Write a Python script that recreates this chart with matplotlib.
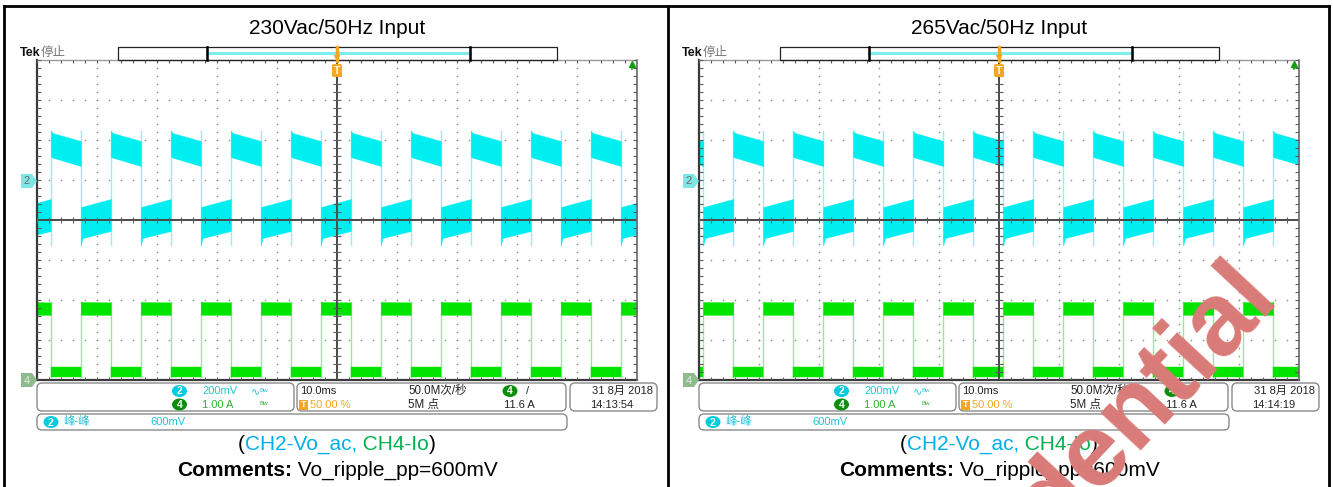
import numpy as np
import matplotlib
matplotlib.use('Agg')
import matplotlib.pyplot as plt
from matplotlib.patches import FancyBboxPatch, Rectangle, Polygon, Ellipse
from matplotlib.collections import LineCollection

plt.rcParams['font.family'] = ['Liberation Sans', 'Noto Sans CJK SC', 'DejaVu Sans']

# ------------------------- data -------------------------
panel_titles = ['230Vac/50Hz Input', '265Vac/50Hz Input']
capture_times = ['14:13:54', '14:14:19']
capture_date = '31 8月 2018'
ch2_scale = '200mV'
ch4_scale = '1.00 A'
time_scale = '10.0ms'
sample_rate = '50.0M次/秒'
record_len = '5M 点'
trig_pos = '50.00 %'
trig_level = '11.6 A'
meas_label = '峰-峰'
meas_value = '600mV'
caption_parts = ['(', 'CH2-Vo_ac,', ' CH4-Io', ')']
comment_label = 'Comments:'
comment_text = ' Vo_ripple_pp=600mV'
watermark = 'Confidential'

ch2_mV_per_div = 200.0
ch4_A_per_div = 1.0
ch2_offset_div = 1.0
ch4_offset_div = -4.0
half_period_ms = 5.0

# CH2 (Vo_ac) edge times, ms relative to trigger (CH4 switches the opposite way)
ch2_rise_ms = [[-47.7, -37.7, -27.7, -17.7, -7.7, 2.3, 12.3, 22.3, 32.3, 42.3],
               [-44.3, -34.3, -24.3, -14.3, -4.3, 5.7, 15.7, 25.7, 35.7, 45.7]]
ch2_fall_ms = [[-42.7, -32.7, -22.7, -12.7, -2.7, 7.3, 17.3, 27.3, 37.3, 47.3],
               [-49.3, -39.3, -29.3, -19.3, -9.3, 0.7, 10.7, 20.7, 30.7, 40.7]]

# envelope of each half period (time since edge, ms)
seg_t_ms = [0.0, 0.3, 5.0]
ch2_high_top_mV = [245, 235, 195]
ch2_high_bot_mV = [115, 112, 70]
ch2_low_top_mV = [-135, -133, -95]
ch2_low_bot_mV = [-325, -290, -255]
ch4_high_top_A = [1.95, 1.95, 1.94]
ch4_high_bot_A = [1.63, 1.63, 1.63]
ch4_low_top_A = [0.33, 0.33, 0.33]
ch4_low_bot_A = [0.08, 0.08, 0.08]

# ------------------------- layout -------------------------
W, H = 1333, 487
fig = plt.figure(figsize=(W / 100, H / 100), dpi=100)
fig.patch.set_facecolor('white')

CYAN = '#00EEF0'
CYAN_EDGE = '#8FF2F2'
GREEN = '#00E400'
GREEN_EDGE = '#8FEF8F'
GRID_X0 = [37, 699]
GRID_TOP, GRID_BOT = 60, 380
PANEL_DX = [0, 662]
PANEL_CX = [337, 999]


def conv2(v):
    return ch2_offset_div + np.asarray(v, float) / ch2_mV_per_div


def conv4(v):
    return ch4_offset_div + np.asarray(v, float) / ch4_A_per_div


def draw_channel(ax, rises, falls, hi, lo, conv, color, ecolor):
    edges = sorted([(t, 'r') for t in rises] + [(t, 'f') for t in falls])
    bounds = [-50.0] + [e[0] for e in edges] + [50.0]
    state = edges[0][1] == 'f'
    st = np.array(seg_t_ms)
    for i in range(len(bounds) - 1):
        a, b = bounds[i], bounds[i + 1]
        start = a if i > 0 else b - half_period_ms
        top_v, bot_v = hi if state else lo
        extra = [x for x in start + st if a <= x <= b]
        ts = np.unique(np.concatenate([np.linspace(a, b, 15), extra]))
        top = np.interp(ts - start, st, top_v)
        bot = np.interp(ts - start, st, bot_v)
        ax.fill_between(ts, conv(bot), conv(top), color=color, lw=0.3,
                        ec=color, zorder=3)
        state = not state
    ymin = conv(min(min(lo[1]), min(hi[1])))
    ymax = conv(max(max(lo[0]), max(hi[0])))
    for t, _ in edges:
        ax.plot([t, t], [ymin, ymax], color=ecolor, lw=1.0, zorder=2)


for p in range(2):
    x0 = GRID_X0[p]
    ax = fig.add_axes([x0 / W, 1 - GRID_BOT / H, 600 / W, (GRID_BOT - GRID_TOP) / H])
    ax.set_xlim(-50, 50)
    ax.set_ylim(-4, 4)
    ax.axis('off')
    ax.patch.set_alpha(0)
    # dotted graticule
    ys = np.arange(-4, 4.001, 0.2)
    xs = np.arange(-50, 50.001, 2.0)
    for xv in np.arange(-40, 41, 10):
        if xv == 0:
            continue
        ax.scatter(np.full_like(ys, xv), ys, s=1.3, c='#8a8a8a', lw=0, zorder=1)
    for yv in np.arange(-3, 4, 1):
        if yv == 0:
            continue
        ax.scatter(xs, np.full_like(xs, yv), s=1.3, c='#8a8a8a', lw=0, zorder=1)
    # waveforms
    draw_channel(ax, ch2_rise_ms[p], ch2_fall_ms[p],
                 (ch2_high_top_mV, ch2_high_bot_mV), (ch2_low_top_mV, ch2_low_bot_mV),
                 conv2, CYAN, CYAN_EDGE)
    draw_channel(ax, ch2_fall_ms[p], ch2_rise_ms[p],
                 (ch4_high_top_A, ch4_high_bot_A), (ch4_low_top_A, ch4_low_bot_A),
                 conv4, GREEN, GREEN_EDGE)
    # center cross and frame
    ax.plot([-50, 50], [0, 0], color='#4a4a4a', lw=1.4, zorder=5)
    ax.plot([0, 0], [-4, 4], color='#4a4a4a', lw=1.4, zorder=5)
    ax.plot([-50, -50], [-4, 4], color='#3a3a3a', lw=1.6, zorder=5, clip_on=False)
    ax.plot([-50, 50], [-4, -4], color='#3a3a3a', lw=1.6, zorder=5, clip_on=False)
    ax.plot([50, 50], [-4, 4], color='#6a6a6a', lw=1.2, zorder=5, clip_on=False)
    ax.plot([-50, 50], [4, 4], color='#9a9a9a', lw=1.0, zorder=5, clip_on=False)
    segs = []
    for xv in xs:
        segs.append([(xv, -0.075), (xv, 0.075)])
        segs.append([(xv, 4), (xv, 3.92)])
        segs.append([(xv, -4), (xv, -3.92)])
    for yv in ys:
        segs.append([(-0.6, yv), (0.6, yv)])
        segs.append([(-50, yv), (-49.4, yv)])
        segs.append([(50, yv), (49.4, yv)])
    ax.add_collection(LineCollection(segs, colors='#5a5a5a', lw=0.8, zorder=5))

# ------------------------- overlay -------------------------
ov = fig.add_axes([0, 0, 1, 1])
ov.set_xlim(0, W)
ov.set_ylim(H, 0)
ov.axis('off')
ov.patch.set_alpha(0)
ov.set_zorder(10)

# table frame
for xv in [4, 668, 1329]:
    ov.plot([xv, xv], [6, H], color='black', lw=2)
ov.plot([4, 1329], [6, 6], color='black', lw=2)


def rbox(x0, y0, x1, y1, ec='#8a8a8a', r=5):
    ov.add_patch(FancyBboxPatch((x0, y0), x1 - x0, y1 - y0,
                                boxstyle=f'round,pad=0,rounding_size={r}',
                                fc='none', ec=ec, lw=1.0))


def badge(x, y, s, fc, w=15, h=12):
    ov.add_patch(Ellipse((x, y), w, h, fc=fc, ec='none'))
    ov.text(x, y + 0.5, s, color='white', fontsize=7.5, weight='bold',
            ha='center', va='center')


def multi_text(cx, y, parts, size):
    first = ov.text(cx, y, parts[0][0], color=parts[0][1], weight=parts[0][2],
                    fontsize=size, ha='left', va='center')
    prev = first
    for s, c, w in parts[1:]:
        prev = ov.annotate(s, xy=(1, 0), xycoords=prev, xytext=(0, 0),
                           textcoords='offset points', ha='left', va='bottom',
                           color=c, weight=w, fontsize=size)
    return first, prev


centered = []
for p in range(2):
    dx = PANEL_DX[p]
    cx = PANEL_CX[p]
    ov.text(cx, 28, panel_titles[p], fontsize=15, ha='center', va='center', color='black')
    # Tek label
    ov.text(20 + dx, 53, 'Tek', fontsize=9, weight='bold', ha='left', va='center', color='#111111')
    ov.text(41 + dx, 53, '停止', fontsize=9, ha='left', va='center', color='#777777')
    # record bar
    ov.add_patch(Rectangle((118 + dx, 47), 439, 13, fill=False, ec='#222222', lw=0.9))
    ov.plot([207 + dx, 470 + dx], [52.5, 52.5], color='#7FEDED', lw=2.2)
    ov.plot([207 + dx] * 2, [47, 60], color='black', lw=1.8)
    ov.plot([470 + dx] * 2, [47, 60], color='black', lw=1.8)
    # trigger markers
    ov.plot([337 + dx] * 2, [47, 61], color='#F5A623', lw=2.5)
    ov.add_patch(Polygon([[333 + dx, 54], [341 + dx, 54], [337 + dx, 61]], fc='#F5A623', ec='none'))
    ov.add_patch(FancyBboxPatch((332 + dx, 64), 10, 13, boxstyle='round,pad=0,rounding_size=2',
                                fc='#F5A623', ec='none'))
    ov.text(337 + dx, 71, 'T', color='white', fontsize=7.5, weight='bold', ha='center', va='center')
    ov.plot([632 + dx, 632 + dx], [64, 69], color='#10A010', lw=1.2)
    ov.plot(632 + dx, 64, marker='^', color='#10A010', ms=5)
    # channel tags
    for (yy, fc, tc, s) in [(181, '#7FE6E6', '#6a6a6a', '2'), (380, '#8DBB8D', '#e8e8e8', '4')]:
        ov.add_patch(Polygon([[21 + dx, yy - 7], [32 + dx, yy - 7], [37 + dx, yy],
                              [32 + dx, yy + 7], [21 + dx, yy + 7]], fc=fc, ec='none'))
        ov.text(27 + dx, yy + 0.5, s, color=tc, fontsize=8, ha='center', va='center')
    # info boxes
    rbox(37 + dx, 383, 294 + dx, 411)
    rbox(297 + dx, 383, 566 + dx, 411)
    rbox(570 + dx, 383, 657 + dx, 411)
    rbox(37 + dx, 414, 567 + dx, 430)
    y1, y2 = 391, 404.5
    badge(179.5 + dx, y1, '2', '#00CCE0')
    ov.text(202 + dx, y1, ch2_scale, color='#22C4DA', fontsize=8, ha='left', va='center')
    ov.text(251 + dx, y1, '∿', color='#22C4DA', fontsize=8, ha='left', va='center',
            family=['DejaVu Sans'])
    ov.text(259 + dx, y1 - 1, 'Bw', color='#22C4DA', fontsize=4.5, ha='left', va='center')
    badge(179.5 + dx, y2, '4', '#0C8E0C')
    ov.text(202 + dx, y2, ch4_scale, color='#2DB02D', fontsize=8, ha='left', va='center')
    ov.text(260 + dx, y2 - 1, 'Bw', color='#2DB02D', fontsize=4.5, ha='left', va='center')
    ov.text(300 + dx, y1, time_scale, color='#222222', fontsize=8, ha='left', va='center')
    ov.text(408 + dx, y1, sample_rate, color='#222222', fontsize=8.3, ha='left', va='center')
    badge(510 + dx, y1, '4', '#0C8E0C')
    ov.text(526 + dx, y1, '/', color='#222222', fontsize=8, ha='left', va='center')
    ov.add_patch(Rectangle((299 + dx, y2 - 5), 9, 10, fc='#F5A623', ec='none'))
    ov.text(303.5 + dx, y2 + 0.3, 'T', color='white', fontsize=6.5, weight='bold',
            ha='center', va='center')
    ov.text(310 + dx, y2, trig_pos, color='#F5A623', fontsize=8, ha='left', va='center')
    ov.text(408 + dx, y2, record_len, color='#222222', fontsize=8.3, ha='left', va='center')
    ov.text(504 + dx, y2, trig_level, color='#222222', fontsize=8, ha='left', va='center')
    ov.text(653 + dx, y1, capture_date, color='#222222', fontsize=8, ha='right', va='center')
    ov.text(590 + dx, y2, capture_times[p], color='#222222', fontsize=8, ha='left', va='center')
    badge(51 + dx, 422, '2', '#00CCE0')
    ov.text(63 + dx, 422, meas_label, color='#22C4DA', fontsize=8.3, ha='left', va='center')
    ov.text(150 + dx, 422, meas_value, color='#22C4DA', fontsize=8, ha='left', va='center')
    # captions
    cap = [(caption_parts[0], 'black', 'normal'), (caption_parts[1], '#00AEEF', 'normal'),
           (caption_parts[2], '#00B050', 'normal'), (caption_parts[3], 'black', 'normal')]
    centered.append((cx, multi_text(cx, 444, cap, 15)))
    com = [(comment_label, 'black', 'bold'), (comment_text, 'black', 'normal')]
    centered.append((cx, multi_text(cx, 470, com, 15)))

# watermark
ov.text(1280, 297, watermark, rotation=47, rotation_mode='anchor', ha='right', va='baseline',
        fontsize=74, weight='bold', color='#D97B78', zorder=30)

fig.canvas.draw()
r = fig.canvas.get_renderer()
for cx, (first, last) in centered:
    e0 = first.get_window_extent(r)
    e1 = last.get_window_extent(r)
    width = e1.x1 - e0.x0
    first.set_x(cx - width / 2)

fig.savefig('out.png', dpi=100)
